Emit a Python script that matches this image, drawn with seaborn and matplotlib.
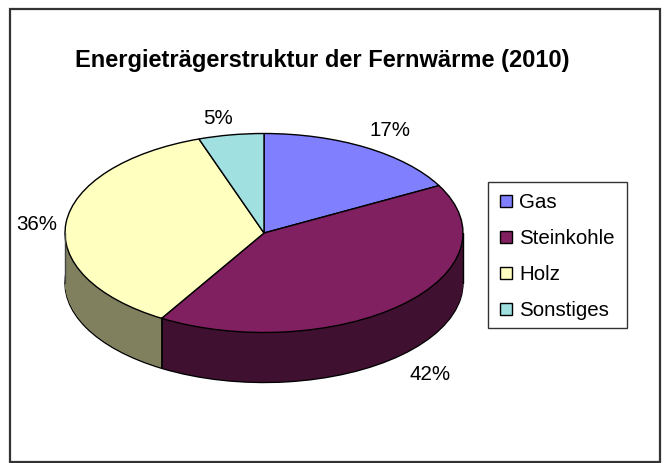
import numpy as np
import matplotlib
matplotlib.use('Agg')
import matplotlib.pyplot as plt
import matplotlib.patches as mpatches
import seaborn as sns

categories = ['Gas', 'Steinkohle', 'Holz', 'Sonstiges']
values = [17.1, 41.5, 36.1, 5.3]
pct_labels = ['17%', '42%', '36%', '5%']
top_colors = ['#8080ff', '#802060', '#ffffc0', '#a0e0e0']
side_colors = ['#404080', '#401030', '#80805f', '#507070']

sns.set_theme(style='white')
plt.rcParams['font.family'] = ['Liberation Sans', 'DejaVu Sans']

W, H = 666, 464
fig = plt.figure(figsize=(W / 100, H / 100), dpi=100, facecolor='white')

# chart frame
fig.add_artist(mpatches.Rectangle((9.5 / W, 1 - 462.5 / H), 650 / W, 453 / H, transform=fig.transFigure,
                                  fill=False, edgecolor='#333333', linewidth=1.6))

# unit circle stretched into the pie ellipse
cx, cy, rx, ry, depth = 264, 234, 199, 99.5, 50
ax = fig.add_axes([(cx - rx) / W, 1 - (cy + ry + depth) / H, 2 * rx / W, (2 * ry + depth) / H])

# side wall: same pie stacked downwards, then outlined at the bottom
offset = depth / ry
for k in np.linspace(offset, 0.01, 60):
    ec = 'black' if k == offset else 'none'
    ax.pie(values, colors=side_colors, startangle=90, counterclock=False, radius=1, center=(0, -k),
           wedgeprops={'edgecolor': ec, 'linewidth': 1.0})
ax.pie(values, colors=top_colors, startangle=90, counterclock=False, radius=1, center=(0, 0),
       wedgeprops={'edgecolor': 'black', 'linewidth': 1.0})
ax.set_aspect('auto')
ax.set_xlim(-1, 1)
ax.set_ylim(-1 - offset, 1)
ax.set_axis_off()
for p in ax.patches:
    p.set_clip_on(False)

# vertical edges of the wall
ang = np.deg2rad(90 - 360 * (values[0] + values[1]) / sum(values))
ax.plot([np.cos(ang)] * 2, [np.sin(ang), np.sin(ang) - offset], color='black', lw=1.3, clip_on=False)
ax.plot([-1, -1], [0, -offset], color='#444444', lw=1.0, clip_on=False)
ax.plot([1, 1], [0, -offset], color='black', lw=1.0, clip_on=False)

fig.text(322 / W, 1 - 60 / H, 'Energieträgerstruktur der Fernwärme (2010)', ha='center', va='center',
         fontsize=17, fontweight='bold', color='black')

label_pos = [(390, 130), (430, 375), (37, 225), (218, 118)]
for s, (x, y) in zip(pct_labels, label_pos):
    fig.text(x / W, 1 - y / H, s, ha='center', va='center', fontsize=14.8, color='black')

# legend box
fig.add_artist(mpatches.Rectangle((487.5 / W, 1 - 328.5 / H), 139 / W, 146 / H, transform=fig.transFigure,
                                  facecolor='white', edgecolor='#333333', linewidth=1.0))
legend_y = [202, 238, 274, 310]
for name, c, y in zip(categories, top_colors, legend_y):
    fig.add_artist(mpatches.Rectangle((499.5 / W, 1 - (y + 6) / H), 12 / W, 12 / H, transform=fig.transFigure,
                                      facecolor=c, edgecolor='black', linewidth=1.0))
    fig.text(519 / W, 1 - (y + 1) / H, name, ha='left', va='center', fontsize=14.8, color='black')

fig.savefig('out.png', dpi=100)
